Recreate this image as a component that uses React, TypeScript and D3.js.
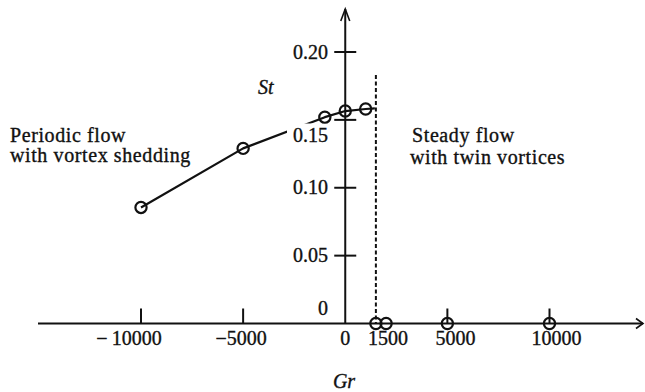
import React from "react";
import * as d3 from "d3";

// Periodic-flow branch (Strouhal number vs Grashof number)
const periodicGr = [-10000, -5000, -1000, 0, 1000];
const periodicSt = [0.0855, 0.129, 0.152, 0.1565, 0.158];
// drawn curve through the periodic branch, ending at the critical Gr
const curveGr = [-10000, -5000, -1000, 0, 1000, 1450];
const curveSt = [0.0855, 0.129, 0.152, 0.1565, 0.158, 0.1585];
// steady branch (no shedding, St = 0)
const steadyGr = [1500, 2000, 5000, 10000];
const steadySt = [0, 0, 0, 0];
const criticalGr = 1500;

const xTickMarks = [-10000, -5000, 5000, 10000];
const xTickLabels = [-10000, -5000, 0, 1500, 5000, 10000];
const yTickMarks = [0.05, 0.1, 0.15, 0.2];
const yTickLabels = [0, 0.05, 0.1, 0.15, 0.2];

const W = 645;
const H = 392;
const FONT = "'Liberation Serif', 'Times New Roman', serif";

export default function App() {
  const x = d3.scaleLinear().domain([-10000, 10000]).range([141, 549.5]);
  const y = d3.scaleLinear().domain([0, 0.2]).range([323.5, 52]);
  const x0 = x(0);
  const y0 = y(0);

  const line = d3
    .line<number>()
    .x((_, i) => x(curveGr[i]))
    .y((d) => y(d))
    .curve(d3.curveLinear);
  const curvePath = line(curveSt) || "";

  const fmtX = (v: number) => (v < 0 ? "\u2212" + (v === -10000 ? "\u2009" : "") + Math.abs(v) : String(v));
  const fmtY = (v: number) => (v === 0 ? "0" : d3.format(".2f")(v));
  const xLabelDx: Record<number, number> = { [-10000]: -12, [-5000]: -2, 0: 0, 1500: 12, 5000: 8, 10000: 7 };
  const yLabelDy = (v: number) => (v === 0 ? -8.5 : v === 0.15 ? 22 : 6.5);

  const stroke = "#111";
  const sw = 2;
  const textProps = { fontSize: 20, fill: "#111", stroke: "#111", strokeWidth: 0.35 };

  return (
    <svg
      width={W}
      height={H}
      viewBox={`0 0 ${W} ${H}`}
      style={{ position: "absolute", left: 0, top: 0, background: "#fff" }}
      fontFamily={FONT}
    >
      <rect x={0} y={0} width={W} height={H} fill="#fff" />

      {/* x axis with arrow */}
      <line x1={38} y1={y0} x2={643} y2={y0} stroke={stroke} strokeWidth={sw} />
      <polyline points={`636,${y0 - 5} 643,${y0} 636,${y0 + 5}`} fill="none" stroke={stroke} strokeWidth={1.6} />

      {/* y axis with arrow */}
      <line x1={x0} y1={y0} x2={x0} y2={9} stroke={stroke} strokeWidth={sw} />
      <polyline points={`${x0 - 4.5},${21} ${x0},${9} ${x0 + 4.5},${21}`} fill="none" stroke={stroke} strokeWidth={1.6} />

      {/* x tick marks */}
      {xTickMarks.map((v) => (
        <line key={"xt" + v} x1={x(v)} x2={x(v)} y1={y0} y2={y0 - 15} stroke={stroke} strokeWidth={sw} />
      ))}
      {/* y tick marks */}
      {yTickMarks.map((v) => (
        <line key={"yt" + v} x1={x0 - 11} x2={x0 + 11} y1={y(v)} y2={y(v)} stroke={stroke} strokeWidth={sw} />
      ))}

      {/* critical Gr dashed boundary */}
      <line
        x1={x(criticalGr)}
        x2={x(criticalGr)}
        y1={75}
        y2={y0}
        stroke={stroke}
        strokeWidth={2}
        strokeDasharray="4 2.5"
      />

      {/* curve */}
      <path d={curvePath} fill="none" stroke={stroke} strokeWidth={2.2} strokeLinejoin="round" />

      {/* y tick labels (0.15 sits on a white patch that interrupts the curve) */}
      {yTickLabels.map((v) => (
        <g key={"yl" + v}>
          {v === 0.15 && <rect x={287} y={123.5} width={41} height={21} fill="#fff" />}
          <text x={328} y={y(v) + yLabelDy(v)} textAnchor="end" {...textProps}>
            {fmtY(v)}
          </text>
        </g>
      ))}

      {/* x tick labels */}
      {xTickLabels.map((v) => (
        <text key={"xl" + v} x={x(v) + xLabelDx[v]} y={345} textAnchor="middle" {...textProps}>
          {fmtX(v)}
        </text>
      ))}

      {/* markers */}
      {periodicSt.map((s, i) => (
        <circle key={"p" + i} cx={x(periodicGr[i])} cy={y(s)} r={5.6} fill="none" stroke={stroke} strokeWidth={2.2} />
      ))}
      {steadySt.map((s, i) => (
        <circle key={"s" + i} cx={x(steadyGr[i])} cy={y(s)} r={5.6} fill="none" stroke={stroke} strokeWidth={2.2} />
      ))}

      {/* axis titles */}
      <text x={258} y={94} fontStyle="italic" {...textProps}>
        St
      </text>
      <text x={344} y={388} fontStyle="italic" textAnchor="middle" {...textProps}>
        Gr
      </text>

      {/* regime annotations */}
      <text {...textProps} letterSpacing={0.6}>
        <tspan x={10} y={142}>Periodic flow</tspan>
        <tspan x={10} y={162}>with vortex shedding</tspan>
      </text>
      <text {...textProps} letterSpacing={0.6}>
        <tspan x={412} y={142}>Steady flow</tspan>
        <tspan x={410} y={164}>with twin vortices</tspan>
      </text>
    </svg>
  );
}
